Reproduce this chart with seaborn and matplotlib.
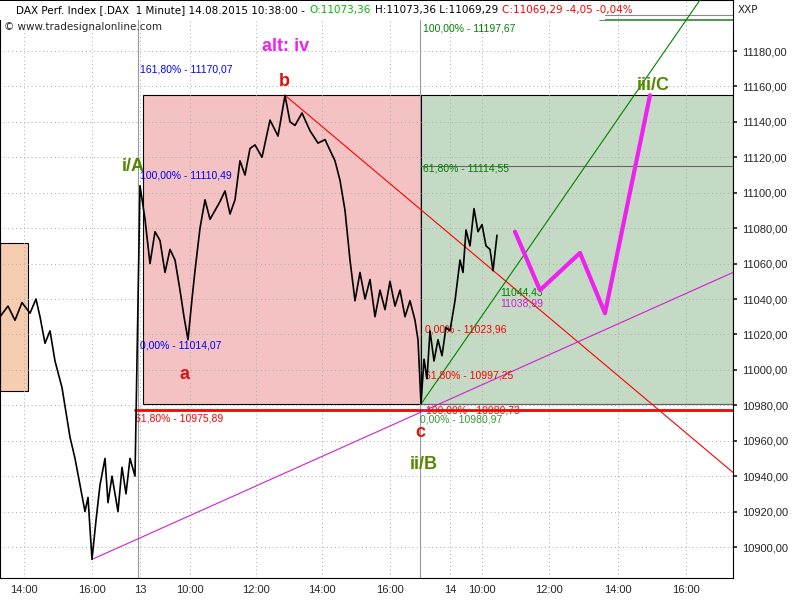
import numpy as np
import pandas as pd
import matplotlib.pyplot as plt
import seaborn as sns
from matplotlib.ticker import FuncFormatter

sns.set_theme(style="white")
plt.rcParams["font.family"] = ["Liberation Sans", "DejaVu Sans"]

# ---------------- data ----------------
# chart x positions (bar index scale) and prices
price_x = [0, 8, 15, 22, 30, 36, 40, 45, 50, 55, 62, 70, 75, 80, 85, 88, 92, 96, 100, 105, 108, 112, 118, 122, 126, 130, 135,
           140, 145, 150, 155, 160, 165, 170, 175, 180, 184, 188, 192, 195, 200, 205, 210, 215, 220, 225, 230, 235, 240,
           245, 250, 255, 262, 270, 278, 285, 290, 295, 302, 310, 318, 325, 330, 335, 340, 345, 350, 355, 360, 365, 370,
           375, 380, 385, 390, 395, 400, 405, 410, 415, 418, 421, 424, 427, 430, 434, 438, 442, 446, 450, 455, 460, 463,
           466, 470, 474, 478, 482, 486, 490, 493, 497]
price_y = [11030, 11036, 11028, 11038, 11032, 11040, 11030, 11015, 11022, 11005, 10990, 10962, 10950, 10935, 10920, 10928,
           10893, 10915, 10935, 10950, 10925, 10940, 10920, 10945, 10930, 10950, 10940,
           11104, 11085, 11060, 11078, 11073, 11055, 11068, 11062, 11045, 11030, 11017, 11040, 11056, 11080, 11096, 11085,
           11090, 11095, 11101, 11088, 11096, 11118, 11110, 11125, 11127, 11120, 11141, 11132, 11155, 11140, 11138, 11145,
           11135, 11128, 11130, 11124, 11118, 11107, 11090, 11062, 11039, 11055, 11040, 11051, 11030, 11045, 11034, 11050,
           11036, 11045, 11030, 11039, 11028, 11017, 10981, 11006, 10995, 11022, 11005, 11017, 11008, 11024, 11022, 11039,
           11062, 11055, 11079, 11070, 11091, 11078, 11082, 11070, 11068, 11056, 11076]

forecast_x = [515, 540, 580, 605, 650]
forecast_y = [11078, 11045, 11066, 11032, 11155]

tick_pos = [24, 92, 140, 190, 256, 322, 390, 450, 482, 549, 618, 686]
tick_lbl = ["14:00", "16:00", "13", "10:00", "12:00", "14:00", "16:00", "14", "10:00", "12:00", "14:00", "16:00"]
price_ticks = list(range(10900, 11181, 20))

header_parts = ["DAX Perf. Index [.DAX  1 Minute] 14.08.2015 10:38:00 -", "O:11073,36",
                "H:11073,36 L:11069,29", "C:11069,29 -4,05 -0,04%"]
header_colors = ["black", "#00bb00", "black", "red"]

XMIN, XMAX = 0, 733
YMIN, YMAX = 10882.5, 11208.8

# ---------------- figure ----------------
fig = plt.figure(figsize=(8, 6), dpi=100)
ax = fig.add_axes([0, 22 / 600, 733 / 800, 578 / 600])
ax.set_xlim(XMIN, XMAX)
ax.set_ylim(YMIN, YMAX)

# boxes
ax.add_patch(plt.Rectangle((143, 10980.7), 278, 11155 - 10980.7, facecolor="#f4c2c2", edgecolor="black", lw=0.8, zorder=1))
ax.add_patch(plt.Rectangle((421, 10980.7), 312, 11155 - 10980.7, facecolor="#c5dac5", edgecolor="black", lw=0.8, zorder=1))
ax.add_patch(plt.Rectangle((0, 10988), 28, 11071.6 - 10988, facecolor="#f7cdb0", edgecolor="black", lw=0.8, zorder=1))

# grid
for p in price_ticks:
    ax.axhline(p, color="#aaaaaa", ls=(0, (1, 3)), lw=0.7, zorder=2)
for t in tick_pos:
    ax.axvline(t, color="#aaaaaa", ls=(0, (1, 3)), lw=0.7, zorder=2)
ax.axvline(138, color="#999999", lw=0.8, zorder=2)
ax.axvline(420, color="#999999", lw=0.8, zorder=2)

# horizontal levels
ax.plot([135, 733], [10977.3, 10977.3], color="red", lw=2, zorder=3)
ax.plot([421, 733], [11115, 11115], color="#666666", lw=0.8, zorder=3)
ax.plot([600, 733], [11197.67, 11197.67], color="#2a8a2a", lw=1.2, zorder=3)
ax.plot([600, 733], [11200.5, 11200.5], color="#888888", lw=0.8, zorder=3)
ax.plot([421, 733], [10980.7, 10980.7], color="#666666", lw=0.8, zorder=3)

# trend lines
ax.plot([285, 790], [11155, 10915], color="red", lw=0.8, zorder=3)
ax.plot([421, 700], [10980.7, 11208.8], color="green", lw=0.8, zorder=3)
ax.plot([92, 733], [10893, 11055], color="#d020d0", lw=0.8, zorder=3)

# price + forecast
df = pd.DataFrame({"x": price_x, "price": price_y})
sns.lineplot(data=df, x="x", y="price", color="black", lw=1.2, ax=ax, zorder=4)
fc = pd.DataFrame({"x": forecast_x, "price": forecast_y})
sns.lineplot(data=fc, x="x", y="price", color="#ee22ee", lw=3, ax=ax, zorder=5)

# fib labels
fs = 7.5
ax.text(140, 11168, "161,80% - 11170,07", color="blue", fontsize=fs)
ax.text(140, 11108, "100,00% - 11110,49", color="blue", fontsize=fs)
ax.text(140, 11012, "0,00% - 11014,07", color="blue", fontsize=fs)
ax.text(423, 11112, "61,80% - 11114,55", color="green", fontsize=fs)
ax.text(423, 11191, "100,00% - 11197,67", color="green", fontsize=fs)
ax.text(425, 11021, "0,00% - 11023,96", color="red", fontsize=fs)
ax.text(425, 10995, "61,80% - 10997,25", color="red", fontsize=fs)
ax.text(135, 10971, "61,80% - 10975,89", color="red", fontsize=fs)
ax.text(426, 10975.5, "100,00% - 10980,73", color="red", fontsize=fs)
ax.text(420, 10970.5, "0,00% - 10980,97", color="green", fontsize=fs, alpha=0.8)
ax.text(500, 11042, "11044,43", color="green", fontsize=fs)
ax.text(500, 11036, "11038,99", color="#cc22cc", fontsize=fs)

# wave labels
ax.text(262, 11180, "alt: iv", color="#ee22ee", fontsize=13, fontweight="bold")
ax.text(279, 11160, "b", color="#dd1111", fontsize=13, fontweight="bold")
ax.text(180, 10995, "a", color="#dd1111", fontsize=13, fontweight="bold")
ax.text(415, 10962, "c", color="#dd1111", fontsize=13, fontweight="bold")
ax.text(122, 11112, "i/A", color="#558800", fontsize=13, fontweight="bold")
ax.text(410, 10944, "ii/B", color="#558800", fontsize=13, fontweight="bold")
ax.text(637, 11158, "iii/C", color="#558800", fontsize=13, fontweight="bold")

# header: white strip + chained texts so pieces never overlap
ax.add_patch(plt.Rectangle((0, 1 - 20 / 600), 605 / 800, 19 / 600, transform=fig.transFigure,
                           facecolor="white", edgecolor="none", zorder=10, clip_on=False))
hdr_kw = dict(fontsize=7.5, family=["DejaVu Sans"], va="center", zorder=11)
prev = ax.text(16 / 800, 1 - 10 / 600, header_parts[0], color=header_colors[0],
               transform=fig.transFigure, clip_on=False, **hdr_kw)
for part, col in zip(header_parts[1:], header_colors[1:]):
    prev = ax.annotate(part, xy=(1, 0.5), xycoords=prev, xytext=(3, 0), textcoords="offset points",
                       color=col, annotation_clip=False, **hdr_kw)
fig.text(4 / 800, 1 - 27 / 600, "© www.tradesignalonline.com", fontsize=7.5, family=["DejaVu Sans"], va="center")
fig.text(738 / 800, 1 - 10 / 600, "XXP", fontsize=7.5, family=["DejaVu Sans"], va="center")

# axes
ax.set_xticks(tick_pos)
ax.set_xticklabels(tick_lbl, fontsize=8)
ax.yaxis.tick_right()
ax.set_yticks(price_ticks)
ax.yaxis.set_major_formatter(FuncFormatter(lambda v, p: f"{v:.2f}".replace(".", ",")))
ax.tick_params(axis="y", labelsize=8, length=3)
ax.tick_params(axis="x", length=3, pad=2)
ax.set_xlabel("")
ax.set_ylabel("")
for s in ax.spines.values():
    s.set_color("black")
    s.set_linewidth(0.8)

fig.savefig("out.png", dpi=100)
